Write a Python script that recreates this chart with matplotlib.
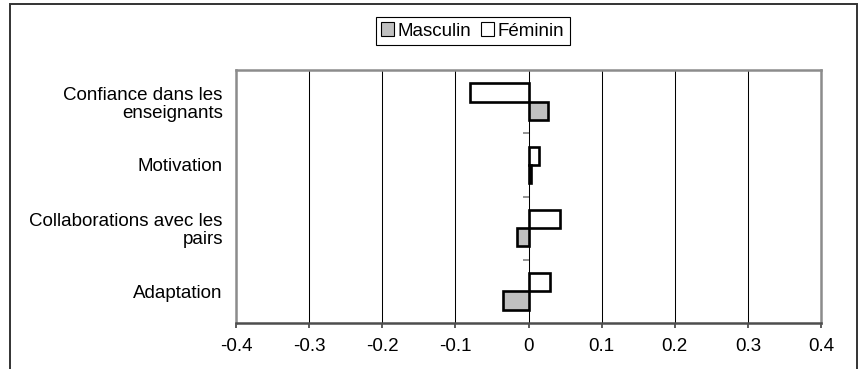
import numpy as np
import matplotlib
matplotlib.use("Agg")
import matplotlib.pyplot as plt
from matplotlib.patches import Patch, Rectangle

plt.rcParams['font.family'] = ['Liberation Sans', 'DejaVu Sans']

categories = ["Confiance dans les\nenseignants", "Motivation",
              "Collaborations avec les\npairs", "Adaptation"]
masculin = [0.026, 0.003, -0.016, -0.035]
feminin = [-0.080, 0.015, 0.043, 0.029]
xticks = [-0.4, -0.3, -0.2, -0.1, 0.0, 0.1, 0.2, 0.3, 0.4]
xtick_labels = ['-0.4', '-0.3', '-0.2', '-0.1', '0', '0.1', '0.2', '0.3', '0.4']
series_names = ['Masculin', 'Féminin']

W, H = 867, 369
FS = 13.5

fig = plt.figure(figsize=(W / 100, H / 100), dpi=100)
ax = fig.add_axes([236 / W, 46 / H, (821 - 236) / W, (323 - 70) / H])

pos = np.arange(len(categories))
bh = 0.29
ax.barh(pos - bh / 2, feminin, height=bh, color='white', edgecolor='black',
        linewidth=1.9, zorder=3)
ax.barh(pos + bh / 2, masculin, height=bh, color='#c0c0c0', edgecolor='black',
        linewidth=1.9, zorder=3)

ax.set_xlim(-0.4, 0.4)
ax.set_ylim(len(categories) - 0.5, -0.5)

ax.set_xticks(xticks)
ax.set_xticklabels(xtick_labels, fontsize=FS)
ax.set_yticks(pos)
ax.set_yticklabels(categories, fontsize=FS, linespacing=1.1, ha='right')
ax.xaxis.grid(True, color='black', linewidth=0.75, zorder=1)
ax.set_axisbelow(True)

ax.tick_params(axis='x', direction='out', length=3.6, width=1.2,
               color='#404040', pad=7.5)
ax.tick_params(axis='y', length=0, pad=9.5)

# category separators on the value axis (x = 0)
bounds = pos[:-1] + 0.5
ax.plot(np.zeros_like(bounds), bounds, ls='none', marker=0, ms=4, mew=1.2,
        color='#808080', zorder=4)

for side in ['left', 'top', 'right']:
    ax.spines[side].set_color('#8c8c8c')
    ax.spines[side].set_linewidth(1.8)
ax.spines['bottom'].set_color('#4d4d4d')
ax.spines['bottom'].set_linewidth(1.8)

handles = [Patch(facecolor='#c0c0c0', edgecolor='black', linewidth=0.8),
           Patch(facecolor='white', edgecolor='black', linewidth=0.8)]
leg = fig.legend(handles, series_names, loc='center',
                 bbox_to_anchor=(472.5 / W, 1 - 31 / H), ncol=2,
                 frameon=True, fancybox=False, edgecolor='black',
                 framealpha=1, fontsize=FS, borderpad=0.28,
                 handlelength=0.7, handleheight=0.7, handletextpad=0.2,
                 columnspacing=0.5, borderaxespad=0)
leg.get_frame().set_linewidth(0.8)

# outer chart frame
fig.add_artist(Rectangle((10 / W, -0.1), (857 - 10) / W, (H - 3.5) / H + 0.1,
                         transform=fig.transFigure, fill=False,
                         edgecolor='#333333', linewidth=1.4))

fig.savefig('out.png', dpi=100)
